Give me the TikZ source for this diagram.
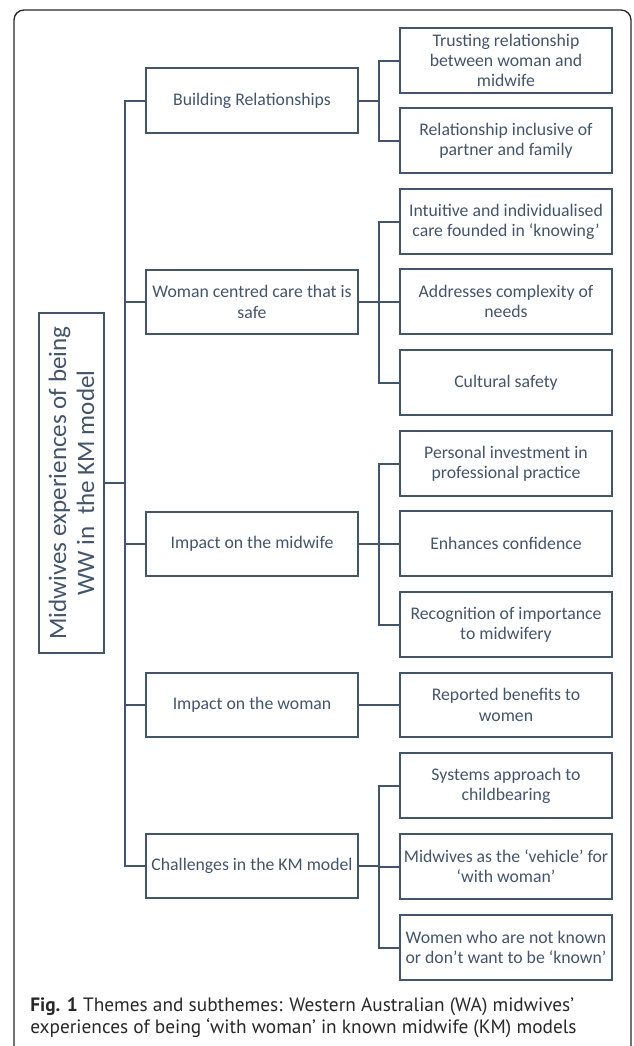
\documentclass[tikz,border=0pt]{standalone}
\usepackage{fontspec}
\setmainfont{Carlito}
\newfontfamily\capfont{PT Sans}
\definecolor{slate}{RGB}{68,84,106}
\definecolor{framec}{RGB}{40,40,40}
\begin{document}
\begin{tikzpicture}[x=0.75pt,y=-0.75pt,
  box/.style={draw=slate, line width=1.5pt, text=slate, minimum width=159pt, minimum height=48.5pt,
    align=center, inner sep=1pt, font=\fontsize{13.3}{15.2}\selectfont},
  rootbox/.style={draw=slate, line width=1.5pt, text=slate, rotate=90, minimum width=255pt,
    minimum height=48.75pt, align=center, inner sep=1pt, font=\fontsize{18.8}{21}\selectfont},
  link/.style={draw=slate, line width=1.5pt},
  captext/.style={anchor=west, inner sep=0pt, text=framec, font=\capfont\fontsize{14.5}{15}\selectfont}]
\useasboundingbox (0,0) rectangle (633,1046);
% frame
\draw[framec, line width=1pt, rounded corners=7.5pt] (14,1052) -- (14,10) -- (631,10) -- (631,1052);
% root
\node[rootbox] (root) at (71.5,483) {Midwives experiences of being\\WW in \ the KM model};
% themes
\node[box] (th1) at (252,100.5) {Building Relationships};
\node[box] (th2) at (252,302) {Woman centred care that is\\safe};
\node[box] (th3) at (252,544) {Impact on the midwife};
\node[box] (th4) at (252,705) {Impact on the woman};
\node[box] (th5) at (252,866) {Challenges in the KM model};
% subthemes
\node[box] (s1) at (506,60.5) {Trusting relationship\\between woman and\\midwife};
\node[box] (s2) at (506,140.5) {Relationship inclusive of\\partner and family};
\node[box] (s3) at (506,221.5) {Intuitive and individualised\\care founded in ‘knowing’};
\node[box] (s4) at (506,301.5) {Addresses complexity of\\needs};
\node[box] (s5) at (506,382.5) {Cultural safety};
\node[box] (s6) at (506,463.5) {Personal investment in\\professional practice};
\node[box] (s7) at (506,543.5) {Enhances confidence};
\node[box] (s8) at (506,624.5) {Recognition of importance\\to midwifery};
\node[box] (s9) at (506,705) {Reported benefits to\\women};
\node[box] (s10) at (506,785.5) {Systems approach to\\childbearing};
\node[box] (s11) at (506,866.5) {Midwives as the ‘vehicle’ for\\‘with woman’};
\node[box] (s12) at (506,947.5) {Women who are not known\\or don’t want to be ‘known’};
% connector coordinates
\coordinate (trunk) at (125,0);
\coordinate (bus) at (379,0);
% root to themes
\draw[link] (root.south) -- (root.south -| trunk);
\draw[link] (th1.west) -- (th1.west -| trunk) |- (th5.west);
\draw[link] (th2.west) -- (th2.west -| trunk);
\draw[link] (th3.west) -- (th3.west -| trunk);
\draw[link] (th4.west) -- (th4.west -| trunk);
% theme 1
\draw[link] (th1.east) -- (th1.east -| bus);
\draw[link] (s1.west) -- (s1.west -| bus) |- (s2.west);
% theme 2
\draw[link] (th2.east) -- (th2.east -| bus);
\draw[link] (s3.west) -- (s3.west -| bus) |- (s5.west);
\draw[link] (s4.west) -- (s4.west -| bus);
% theme 3
\draw[link] (th3.east) -- (th3.east -| bus);
\draw[link] (s6.west) -- (s6.west -| bus) |- (s8.west);
\draw[link] (s7.west) -- (s7.west -| bus);
% theme 4
\draw[link] (th4.east) -- (s9.west);
% theme 5
\draw[link] (th5.east) -- (th5.east -| bus);
\draw[link] (s10.west) -- (s10.west -| bus) |- (s12.west);
\draw[link] (s11.west) -- (s11.west -| bus);
% caption
\node[captext] (cap1) at (30,1007) {\textbf{Fig. 1} Themes and subthemes: Western Australian (WA) midwives’};
\node[captext] (cap2) at (30,1028) {experiences of being ‘with woman’ in known midwife (KM) models};
\end{tikzpicture}
\end{document}
